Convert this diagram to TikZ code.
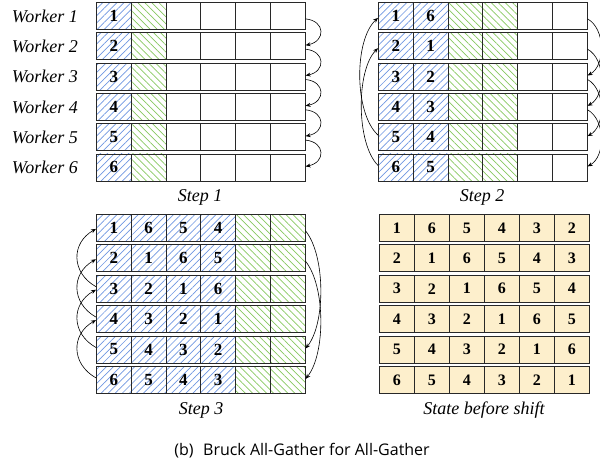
\documentclass[tikz,border=0pt]{standalone}
\usepackage{fontspec}
\setmainfont{Liberation Serif}
\newfontfamily\capfont{Open Sans}
\usetikzlibrary{patterns.meta,arrows.meta}
\definecolor{hblue}{RGB}{110,150,225}
\definecolor{hgreen}{RGB}{135,200,95}
\definecolor{cyel}{RGB}{253,239,204}
\definecolor{cline}{RGB}{40,40,40}
\tikzset{
  cellbase/.style={draw=cline,line width=0.8pt,minimum width=34.8pt,minimum height=27pt,inner sep=0pt,anchor=north west,font=\fontsize{17}{17}\selectfont\bfseries},
  bluecell/.style={cellbase,pattern={Lines[angle=45,distance=5pt,line width=0.7pt]},pattern color=hblue},
  greencell/.style={cellbase,pattern={Lines[angle=-45,distance=5pt,line width=0.7pt]},pattern color=hgreen},
  emptycell/.style={cellbase,fill=white},
  yelcell/.style={cellbase,fill=cyel,font=\fontsize{16}{16}\selectfont\bfseries},
  lab/.style={font=\fontsize{18}{18}\selectfont\itshape,inner sep=0pt},
  arr/.style={-{Stealth[length=5pt,width=4pt]},line width=0.6pt,black}
}
\begin{document}
\begin{tikzpicture}[x=1pt,y=-1pt]
\useasboundingbox (0,0) rectangle (600,466);
% ---- Step 1
\foreach \r in {1,...,6}{
  \pgfmathsetmacro{\yy}{2+30.3*(\r-1)}
  \node[lab,anchor=east] (w\r) at (78,\yy+14) {Worker \r};
  \node[bluecell] (a\r c1) at (96,\yy) {\r};
  \node[greencell] (a\r c2) at (96+34.8,\yy) {};
  \foreach \c in {3,...,6}{\node[emptycell] (a\r c\c) at (96+34.8*\c-34.8,\yy) {};}
}
\node[lab] (l1) at (200,197) {Step 1};
\foreach \r [evaluate=\r as \n using int(\r+1)] in {1,...,5}{
  \draw[arr] ([yshift=-3pt]a\r c6.east) .. controls +(20,2) and +(20,-4) .. ([yshift=1pt]a\n c6.east);
}
% ---- Step 2
\foreach \r in {1,...,6}{
  \pgfmathsetmacro{\yy}{2+30.3*(\r-1)}
  \pgfmathtruncatemacro{\p}{mod(\r+4,6)+1}
  \node[bluecell] (b\r c1) at (378,\yy) {\r};
  \node[bluecell] (b\r c2) at (378+34.8,\yy) {\p};
  \node[greencell] (b\r c3) at (378+69.6,\yy) {};
  \node[greencell] (b\r c4) at (378+104.4,\yy) {};
  \node[emptycell] (b\r c5) at (378+139.2,\yy) {};
  \node[emptycell] (b\r c6) at (378+174,\yy) {};
}
\node[lab] (l2) at (482,197) {Step 2};
\foreach \r [evaluate=\r as \n using int(\r+2)] in {1,...,4}{
  \draw[arr] ([yshift=-3pt]b\r c6.east) .. controls +(18,10) and +(18,-10) .. ([yshift=1pt]b\n c6.east);
}
\draw[arr] ([yshift=2pt]b5c1.west) .. controls +(-24,-22) and +(-24,22) .. ([yshift=-2pt]b1c1.west);
\draw[arr] ([yshift=2pt]b6c1.west) .. controls +(-22,-22) and +(-22,22) .. ([yshift=-2pt]b2c1.west);
% ---- Step 3
\foreach \r in {1,...,6}{
  \pgfmathsetmacro{\yy}{214+30.4*(\r-1)}
  \foreach \c in {1,...,4}{
    \pgfmathtruncatemacro{\v}{mod(\r-\c+6,6)+1}
    \node[bluecell] (c\r c\c) at (96+34.8*\c-34.8,\yy) {\v};
  }
  \node[greencell] (c\r c5) at (96+139.2,\yy) {};
  \node[greencell] (c\r c6) at (96+174,\yy) {};
}
\node[lab] (l3) at (201,410) {Step 3};
\foreach \r [evaluate=\r as \n using int(\r-2)] in {3,...,6}{
  \draw[arr] ([yshift=2pt]c\r c1.west) .. controls +(-25,-14) and +(-25,14) .. ([yshift=-1pt]c\n c1.west);
}
\draw[arr] ([yshift=-3pt]c1c6.east) .. controls +(20,25) and +(20,-25) .. ([yshift=1pt]c5c6.east);
\draw[arr] ([yshift=-3pt]c2c6.east) .. controls +(20,25) and +(20,-25) .. ([yshift=1pt]c6c6.east);
% ---- State before shift
\foreach \r in {1,...,6}{
  \pgfmathsetmacro{\yy}{214+30.4*(\r-1)}
  \foreach \c in {1,...,6}{
    \pgfmathtruncatemacro{\v}{mod(\r-\c+6,6)+1}
    \node[yelcell,minimum width=35pt] (d\r c\c) at (379+35*\c-35,\yy) {\v};
  }
}
\node[lab] (l4) at (484,410) {State before shift};
\node[font=\capfont\fontsize{16}{16}\selectfont,inner sep=0pt] (cap) at (302,451) {(b)\hspace{0.6em}Bruck All-Gather for All-Gather};
\end{tikzpicture}
\end{document}
